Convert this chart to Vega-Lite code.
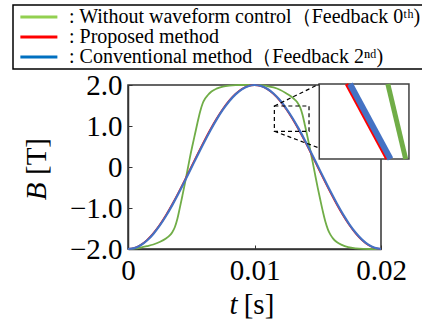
{
  "$schema": "https://vega.github.io/schema/vega-lite/v6.json",
  "autosize": {"type": "none"},
  "padding": {"left": 128, "top": 85, "right": 41, "bottom": 73},
  "width": 253,
  "height": 164,
  "background": "white",
  "config": {
    "view": {"stroke": "#333333", "strokeWidth": 1.5},
    "axis": {"grid": false, "labelFont": "Liberation Serif", "titleFont": "Liberation Serif", "domainColor": "#333333", "domainWidth": 1.5, "tickColor": "#333333", "tickSize": -4, "tickWidth": 1, "labelFontSize": 29, "labelColor": "black", "titleFontSize": 29, "titleFontWeight": "normal", "titleColor": "black"},
    "legend": {"labelFont": "Liberation Serif", "strokeWidth": 1.5}
  },
  "resolve": {"scale": {"x": "independent", "y": "independent"}, "axis": {"x": "independent", "y": "independent"}},
  "datasets": {
    "legend": [
      {"series": "Without waveform control（Feedback 0ᵗʰ)"},
      {"series": "Proposed method"},
      {"series": "Conventional method（Feedback 2ⁿᵈ)"}
    ],
    "green": [
      {"t":0,"B":-2.0},{"t":0.0005,"B":-1.99},{"t":0.001,"B":-1.965},{"t":0.0015,"B":-1.93},{"t":0.002,"B":-1.89},{"t":0.0025,"B":-1.83},{"t":0.003,"B":-1.745},{"t":0.0033,"B":-1.67},{"t":0.0035,"B":-1.59},{"t":0.0037,"B":-1.47},{"t":0.0039,"B":-1.27},{"t":0.0041,"B":-0.99},{"t":0.0043,"B":-0.70},{"t":0.0045,"B":-0.40},{"t":0.0047,"B":-0.08},{"t":0.0049,"B":0.24},{"t":0.0051,"B":0.53},{"t":0.0053,"B":0.81},{"t":0.0055,"B":1.09},{"t":0.0057,"B":1.35},{"t":0.0059,"B":1.55},{"t":0.0061,"B":1.67},{"t":0.0063,"B":1.75},{"t":0.0066,"B":1.84},{"t":0.007,"B":1.91},{"t":0.0075,"B":1.96},{"t":0.008,"B":1.985},{"t":0.0085,"B":1.997},{"t":0.009,"B":2.0},{"t":0.01,"B":2.0},
      {"t":0.0105,"B":1.997},{"t":0.011,"B":1.975},{"t":0.0115,"B":1.94},{"t":0.012,"B":1.885},{"t":0.0125,"B":1.80},{"t":0.0129,"B":1.72},{"t":0.0132,"B":1.64},{"t":0.0134,"B":1.57},{"t":0.0136,"B":1.46},{"t":0.0138,"B":1.27},{"t":0.014,"B":1.0},{"t":0.0142,"B":0.72},{"t":0.0144,"B":0.42},{"t":0.0146,"B":0.12},{"t":0.0148,"B":-0.2},{"t":0.015,"B":-0.51},{"t":0.0152,"B":-0.8},{"t":0.0154,"B":-1.08},{"t":0.0156,"B":-1.33},{"t":0.0158,"B":-1.52},{"t":0.016,"B":-1.65},{"t":0.0162,"B":-1.74},{"t":0.0165,"B":-1.83},{"t":0.0169,"B":-1.9},{"t":0.0174,"B":-1.955},{"t":0.018,"B":-1.985},{"t":0.0186,"B":-1.997},{"t":0.0192,"B":-2.0},{"t":0.02,"B":-2.0}
    ],
    "red": [
      {"t":0,"B":-2},{"t":0.0005,"B":-1.9754},{"t":0.001,"B":-1.9021},{"t":0.0015,"B":-1.782},{"t":0.002,"B":-1.618},{"t":0.0025,"B":-1.4142},{"t":0.003,"B":-1.1756},{"t":0.0035,"B":-0.908},{"t":0.004,"B":-0.618},{"t":0.0045,"B":-0.3129},{"t":0.005,"B":0},{"t":0.0055,"B":0.3129},{"t":0.006,"B":0.618},{"t":0.0065,"B":0.908},{"t":0.007,"B":1.1756},{"t":0.0075,"B":1.4142},{"t":0.008,"B":1.618},{"t":0.0085,"B":1.782},{"t":0.009,"B":1.9021},{"t":0.0095,"B":1.9754},{"t":0.01,"B":2},
      {"t":0.0105,"B":1.9754},{"t":0.011,"B":1.9021},{"t":0.0115,"B":1.782},{"t":0.012,"B":1.618},{"t":0.0125,"B":1.4142},{"t":0.013,"B":1.1756},{"t":0.0135,"B":0.908},{"t":0.014,"B":0.618},{"t":0.0145,"B":0.3129},{"t":0.015,"B":0},{"t":0.0155,"B":-0.3129},{"t":0.016,"B":-0.618},{"t":0.0165,"B":-0.908},{"t":0.017,"B":-1.1756},{"t":0.0175,"B":-1.4142},{"t":0.018,"B":-1.618},{"t":0.0185,"B":-1.782},{"t":0.019,"B":-1.9021},{"t":0.0195,"B":-1.9754},{"t":0.02,"B":-2}
    ],
    "blue": [
      {"t":0,"B":-2},{"t":0.0005,"B":-1.9793},{"t":0.001,"B":-1.9098},{"t":0.0015,"B":-1.7934},{"t":0.002,"B":-1.6327},{"t":0.0025,"B":-1.4319},{"t":0.003,"B":-1.1958},{"t":0.0035,"B":-0.9303},{"t":0.004,"B":-0.6418},{"t":0.0045,"B":-0.3376},{"t":0.005,"B":-0.025},{"t":0.0055,"B":0.2882},{"t":0.006,"B":0.5942},{"t":0.0065,"B":0.8857},{"t":0.007,"B":1.1554},{"t":0.0075,"B":1.3965},{"t":0.008,"B":1.6033},{"t":0.0085,"B":1.7706},{"t":0.009,"B":1.8944},{"t":0.0095,"B":1.9715},{"t":0.01,"B":1.9998},
      {"t":0.0105,"B":1.9793},{"t":0.011,"B":1.9098},{"t":0.0115,"B":1.7934},{"t":0.012,"B":1.6327},{"t":0.0125,"B":1.4319},{"t":0.013,"B":1.1958},{"t":0.0135,"B":0.9303},{"t":0.014,"B":0.6418},{"t":0.0145,"B":0.3376},{"t":0.015,"B":0.025},{"t":0.0155,"B":-0.2882},{"t":0.016,"B":-0.5942},{"t":0.0165,"B":-0.8857},{"t":0.017,"B":-1.1554},{"t":0.0175,"B":-1.3965},{"t":0.018,"B":-1.6033},{"t":0.0185,"B":-1.7706},{"t":0.019,"B":-1.8944},{"t":0.0195,"B":-1.9715},{"t":0.02,"B":-1.9998}
    ],
    "zoomBox": [{"t1":0.01157,"t2":0.01431,"B1":0.871,"B2":1.488}],
    "connectors": [{"t1":0.01157,"B1":1.488,"t2":0.01512,"B2":2.024},{"t1":0.01157,"B1":0.871,"t2":0.01512,"B2":0.463}],
    "insetBox": [{"t1":0.01512,"t2":0.02221,"B1":0.195,"B2":2.024}],
    "insetGreen": [{"t":0.02054,"B":2.024},{"t":0.02195,"B":0.195}],
    "insetRed": [{"t":0.01727,"B":2.024},{"t":0.02047,"B":0.195}],
    "insetBlue": [{"t":0.01755,"B":2.024},{"t":0.02075,"B":0.195}]
  },
  "layer": [
    {
      "data": {"name": "legend"},
      "transform": [{"filter": "false"}],
      "mark": {"type": "line"},
      "encoding": {
        "x": {"field": "t", "type": "quantitative", "scale": {"domain": [0, 0.02], "nice": false, "zero": false},
              "axis": {"orient": "bottom", "values": [0, 0.01, 0.02], "labelExpr": "datum.value == 0 ? '0' : format(datum.value, '.2f')", "title": "t", "titleFontStyle": "italic", "titleX": 105, "titleY": 64, "titleAlign": "center", "titleBaseline": "alphabetic", "labelPadding": 11, "labelFlush": false}},
        "y": {"field": "B", "type": "quantitative", "scale": {"domain": [-2, 2], "nice": false, "zero": false},
              "axis": {"orient": "left", "values": [-2, -1, 0, 1, 2], "labelExpr": "datum.value == 0 ? '0' : format(datum.value, '.1f')", "title": "B", "titleFontStyle": "italic", "titleX": -83, "titleY": 106, "titleAngle": -90, "titleAlign": "center", "titleBaseline": "alphabetic", "labelPadding": 10}},
        "color": {"field": "series", "type": "nominal",
                  "scale": {"domain": ["Without waveform control（Feedback 0ᵗʰ)", "Proposed method", "Conventional method（Feedback 2ⁿᵈ)"], "range": ["#92d050", "#ff0000", "#0070c0"]},
                  "legend": {"orient": "none", "legendX": -115, "legendY": -80, "title": null, "direction": "vertical", "symbolType": "M-1,0H7", "symbolSize": 85.6, "symbolStrokeWidth": 3, "symbolOpacity": 1, "labelFont": "Liberation Serif", "labelFontSize": 20, "labelColor": "black", "labelLimit": 500, "labelOffset": 34, "rowPadding": 0, "padding": 2, "strokeColor": "black", "fillColor": "white", "labelExpr": "': ' + datum.label + '\u2002'"}}
      }
    },
    {
      "data": {"name": "green"},
      "mark": {"type": "line", "color": "#70ad47", "strokeWidth": 1.8, "interpolate": "monotone"},
      "encoding": {
        "x": {"field": "t", "type": "quantitative", "scale": {"domain": [0, 0.02], "nice": false, "zero": false},
              "axis": {"orient": "bottom", "labels": false, "ticks": false, "domain": false, "title": "[s]", "titleX": 130.5, "titleY": 64, "titleAlign": "center", "titleBaseline": "alphabetic"}},
        "y": {"field": "B", "type": "quantitative", "scale": {"domain": [-2, 2], "nice": false, "zero": false},
              "axis": {"orient": "left", "labels": false, "ticks": false, "domain": false, "title": "[T]", "titleX": -83, "titleY": 71, "titleAngle": -90, "titleAlign": "center", "titleBaseline": "alphabetic"}}
      }
    },
    {
      "data": {"name": "red"},
      "mark": {"type": "line", "color": "#ff0000", "strokeWidth": 1.8, "interpolate": "monotone"},
      "encoding": {"x": {"field": "t", "type": "quantitative", "scale": {"domain": [0, 0.02], "nice": false, "zero": false}, "axis": null}, "y": {"field": "B", "type": "quantitative", "scale": {"domain": [-2, 2], "nice": false, "zero": false}, "axis": null}}
    },
    {
      "data": {"name": "blue"},
      "mark": {"type": "line", "color": "#4472c4", "strokeWidth": 2.2, "interpolate": "monotone"},
      "encoding": {"x": {"field": "t", "type": "quantitative", "scale": {"domain": [0, 0.02], "nice": false, "zero": false}, "axis": null}, "y": {"field": "B", "type": "quantitative", "scale": {"domain": [-2, 2], "nice": false, "zero": false}, "axis": null}}
    },
    {
      "data": {"name": "zoomBox"},
      "mark": {"type": "rect", "fillOpacity": 0, "stroke": "black", "strokeWidth": 1.2, "strokeDash": [4, 3]},
      "encoding": {"x": {"field": "t1", "type": "quantitative", "scale": {"domain": [0, 0.02], "nice": false, "zero": false}, "axis": null}, "x2": {"field": "t2"}, "y": {"field": "B1", "type": "quantitative", "scale": {"domain": [-2, 2], "nice": false, "zero": false}, "axis": null}, "y2": {"field": "B2"}}
    },
    {
      "data": {"name": "connectors"},
      "mark": {"type": "rule", "color": "black", "strokeWidth": 1.2, "strokeDash": [4, 3]},
      "encoding": {"x": {"field": "t1", "type": "quantitative", "scale": {"domain": [0, 0.02], "nice": false, "zero": false}, "axis": null}, "x2": {"field": "t2"}, "y": {"field": "B1", "type": "quantitative", "scale": {"domain": [-2, 2], "nice": false, "zero": false}, "axis": null}, "y2": {"field": "B2"}}
    },
    {
      "data": {"name": "insetBox"},
      "mark": {"type": "rect", "fill": "white", "stroke": "#404040", "strokeWidth": 1.5},
      "encoding": {"x": {"field": "t1", "type": "quantitative", "scale": {"domain": [0, 0.02], "nice": false, "zero": false}, "axis": null}, "x2": {"field": "t2"}, "y": {"field": "B1", "type": "quantitative", "scale": {"domain": [-2, 2], "nice": false, "zero": false}, "axis": null}, "y2": {"field": "B2"}}
    },
    {
      "data": {"name": "insetGreen"},
      "mark": {"type": "line", "color": "#70ad47", "strokeWidth": 5},
      "encoding": {"x": {"field": "t", "type": "quantitative", "scale": {"domain": [0, 0.02], "nice": false, "zero": false}, "axis": null}, "y": {"field": "B", "type": "quantitative", "scale": {"domain": [-2, 2], "nice": false, "zero": false}, "axis": null}}
    },
    {
      "data": {"name": "insetRed"},
      "mark": {"type": "line", "color": "#ff0000", "strokeWidth": 3.5},
      "encoding": {"x": {"field": "t", "type": "quantitative", "scale": {"domain": [0, 0.02], "nice": false, "zero": false}, "axis": null}, "y": {"field": "B", "type": "quantitative", "scale": {"domain": [-2, 2], "nice": false, "zero": false}, "axis": null}}
    },
    {
      "data": {"name": "insetBlue"},
      "mark": {"type": "line", "color": "#4472c4", "strokeWidth": 6},
      "encoding": {"x": {"field": "t", "type": "quantitative", "scale": {"domain": [0, 0.02], "nice": false, "zero": false}, "axis": null}, "y": {"field": "B", "type": "quantitative", "scale": {"domain": [-2, 2], "nice": false, "zero": false}, "axis": null}}
    }
  ]
}
